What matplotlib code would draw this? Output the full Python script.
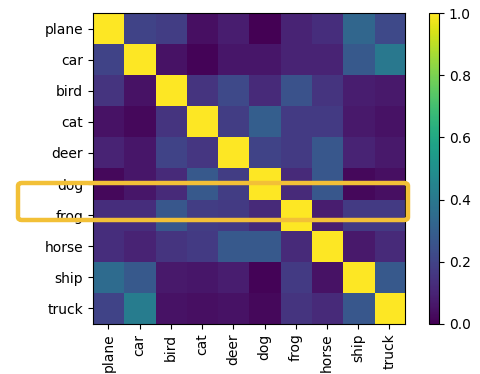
import numpy as np
import matplotlib.pyplot as plt
from matplotlib.patches import FancyBboxPatch

classes = ['plane', 'car', 'bird', 'cat', 'deer', 'dog', 'frog', 'horse', 'ship', 'truck']

# filas: clase real, columnas: clase comparada
plane = [1.00, 0.20, 0.18, 0.04, 0.08, 0.00, 0.10, 0.13, 0.33, 0.22]
car   = [0.20, 1.00, 0.05, 0.01, 0.06, 0.06, 0.10, 0.10, 0.28, 0.40]
bird  = [0.15, 0.05, 1.00, 0.15, 0.22, 0.12, 0.25, 0.15, 0.08, 0.07]
cat   = [0.05, 0.02, 0.15, 1.00, 0.18, 0.30, 0.17, 0.17, 0.07, 0.05]
deer  = [0.10, 0.06, 0.20, 0.16, 1.00, 0.20, 0.17, 0.27, 0.10, 0.07]
dog   = [0.02, 0.06, 0.12, 0.28, 0.18, 1.00, 0.12, 0.27, 0.02, 0.04]
frog  = [0.13, 0.13, 0.27, 0.18, 0.17, 0.12, 1.00, 0.08, 0.17, 0.17]
horse = [0.13, 0.10, 0.15, 0.17, 0.28, 0.28, 0.12, 1.00, 0.07, 0.12]
ship  = [0.35, 0.28, 0.07, 0.06, 0.08, 0.01, 0.17, 0.05, 1.00, 0.28]
truck = [0.20, 0.42, 0.05, 0.04, 0.05, 0.02, 0.15, 0.12, 0.27, 1.00]

M = np.array([plane, car, bird, cat, deer, dog, frog, horse, ship, truck])

fig = plt.figure(figsize=(4.81, 3.74), dpi=100)
ax = fig.add_axes([0.193, 0.134, 0.649, 0.831])
cax = fig.add_axes([0.892, 0.134, 0.021, 0.831])

im = ax.imshow(M, cmap='viridis', vmin=0, vmax=1, aspect='auto')
ax.set_xticks(range(len(classes)))
ax.set_xticklabels(classes, rotation=90)
ax.set_yticks(range(len(classes)))
ax.set_yticklabels(classes)
fig.colorbar(im, cax=cax, ticks=[0, 0.2, 0.4, 0.6, 0.8, 1.0])

# recuadro resaltando las filas dog/frog
caja = FancyBboxPatch((18 / 481, 1 - 220 / 374), 390 / 481, 37 / 374,
                      boxstyle='round,pad=0,rounding_size=0.008',
                      transform=fig.transFigure, fill=False,
                      edgecolor='#f2c037', linewidth=3.2, zorder=10)
fig.patches.append(caja)

plt.savefig('out.png', dpi=100)
